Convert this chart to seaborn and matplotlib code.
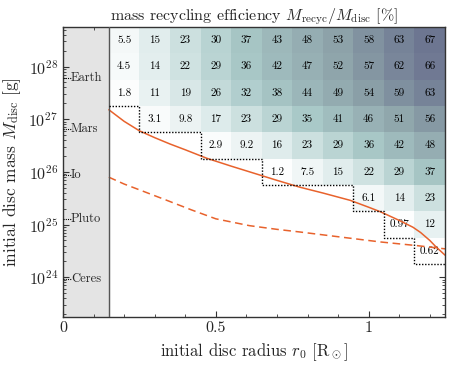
import numpy as np
import pandas as pd
import seaborn as sns
import matplotlib.pyplot as plt
from matplotlib.colors import LinearSegmentedColormap

# данные
r0 = [0.2, 0.3, 0.4, 0.5, 0.6, 0.7, 0.8, 0.9, 1.0, 1.1, 1.2]
log_mdisc = [28.5, 28.0, 27.5, 27.0, 26.5, 26.0, 25.5, 25.0, 24.5]
nan = np.nan
eff = [
    [5.5, 15, 23, 30, 37, 43, 48, 53, 58, 63, 67],
    [4.5, 14, 22, 29, 36, 42, 47, 52, 57, 62, 66],
    [1.8, 11, 19, 26, 32, 38, 44, 49, 54, 59, 63],
    [nan, 3.1, 9.8, 17, 23, 29, 35, 41, 46, 51, 56],
    [nan, nan, nan, 2.9, 9.2, 16, 23, 29, 36, 42, 48],
    [nan, nan, nan, nan, nan, 1.2, 7.5, 15, 22, 29, 37],
    [nan, nan, nan, nan, nan, nan, nan, nan, 6.1, 14, 23],
    [nan, nan, nan, nan, nan, nan, nan, nan, nan, 0.97, 12],
    [nan, nan, nan, nan, nan, nan, nan, nan, nan, nan, 0.62],
]

# кривые
solid_r = [0.15, 0.2, 0.25, 0.3, 0.35, 0.4, 0.47, 0.55, 0.65, 0.7, 0.775, 0.85,
           0.94, 1.0, 1.04, 1.1, 1.145, 1.17, 1.2, 1.22, 1.235, 1.25]
solid_logm = [27.18, 26.96, 26.78, 26.65, 26.53, 26.42, 26.26, 26.11, 25.93, 25.84, 25.71, 25.6,
              25.46, 25.33, 25.24, 25.08, 24.95, 24.85, 24.7, 24.58, 24.5, 24.42]
dashed_r = [0.15, 0.2, 0.25, 0.34, 0.42, 0.5, 0.61, 0.7, 0.775, 0.9, 1.04, 1.16, 1.25]
dashed_logm = [25.9, 25.77, 25.66, 25.46, 25.28, 25.11, 24.98, 24.91, 24.86, 24.77, 24.67, 24.6, 24.54]

# тела Солнечной системы (масса в г)
bodies = ['Earth', 'Mars', 'Io', 'Pluto', 'Ceres']
body_mass = [5.97e27, 6.42e26, 8.93e25, 1.30e25, 9.4e23]

r_inner = 0.15
dr = 0.1
dlog = 0.5

sns.set_style('ticks')
plt.rcParams['font.family'] = 'serif'
plt.rcParams['font.serif'] = ['cmr10', 'DejaVu Serif']
plt.rcParams['mathtext.fontset'] = 'cm'
plt.rcParams['axes.formatter.use_mathtext'] = True
plt.rcParams['xtick.direction'] = 'in'
plt.rcParams['ytick.direction'] = 'in'

fig = plt.figure(figsize=(4.5, 3.65), dpi=100)
ax = fig.add_axes([0.14, 0.132, 0.849, 0.794])

x_edges = np.round(np.append(np.array(r0) - dr / 2, r0[-1] + dr / 2), 3)
y_top = log_mdisc[0] + dlog / 2
y_bot = log_mdisc[-1] - dlog / 2

ax.set_xlim(0, x_edges[-1])
ax.set_yscale('log')
ax.set_ylim(10 ** 23.25, 10 ** y_top)

# серая зона
ax.axvspan(0, r_inner, color='#e4e4e4', zorder=0)
ax.axvline(r_inner, color='#555555', lw=1.0, zorder=3)

# тепловая карта
cmap = LinearSegmentedColormap.from_list('recyc', ['#ffffff', '#dceaea', '#a9c9c8', '#8ea4aa', '#676d8c'])
df = pd.DataFrame(eff, index=log_mdisc, columns=r0)
hax = ax.inset_axes([x_edges[0], 10 ** y_bot, x_edges[-1] - x_edges[0], 10 ** y_top - 10 ** y_bot],
                    transform=ax.transData, zorder=1)
sns.heatmap(df, ax=hax, cmap=cmap, vmin=0, vmax=70, cbar=False, annot=True, fmt='.2g',
            annot_kws={'color': 'k', 'fontsize': 8}, xticklabels=False, yticklabels=False)
hax.patch.set_alpha(0)
hax.tick_params(left=False, bottom=False)

# пунктирная граница
lowest = []
for j in range(len(r0)):
    col = [log_mdisc[i] for i in range(len(log_mdisc)) if not np.isnan(eff[i][j])]
    lowest.append(10 ** (min(col) - dlog / 2))
ax.stairs(lowest, x_edges, baseline=None, color='k', ls=(0, (1, 1.2)), lw=1.0, zorder=3)

# кривые
ax.plot(solid_r, 10 ** np.array(solid_logm), color='#e8622c', lw=1.1, zorder=2)
ax.plot(dashed_r, 10 ** np.array(dashed_logm), color='#e8622c', lw=1.1, ls=(0, (5, 3)), zorder=2)

for name, m in zip(bodies, body_mass):
    ax.plot([0, 0.025], [m, m], color='k', ls=(0, (1, 1)), lw=0.8, zorder=3)
    ax.text(0.026, m, name, va='center', ha='left', fontsize=9, zorder=3)

ax.set_xticks([0, 0.5, 1])
ax.set_xticklabels(['0', '0.5', '1'])
ax.set_xticks(np.arange(0, 1.25, 0.1), minor=True)
ax.set_yticks([1e24, 1e25, 1e26, 1e27, 1e28])
ax.tick_params(which='both', top=True, right=True, labelsize=11.5, color='#333333')
ax.tick_params(which='major', length=4, width=0.8)
ax.tick_params(which='minor', length=2, width=0.6)
for s in ax.spines.values():
    s.set_linewidth(1.0)
    s.set_color('#333333')

ax.set_title(r'mass recycling efficiency $M_\mathrm{recyc}/M_\mathrm{disc}$ [%]', fontsize=11.5, pad=4)
ax.set_xlabel(r'initial disc radius $r_0$ [R$_\odot$]', fontsize=12)
ax.set_ylabel(r'initial disc mass $M_\mathrm{disc}$ [g]', fontsize=12.5)

fig.savefig('out.png', dpi=100)
